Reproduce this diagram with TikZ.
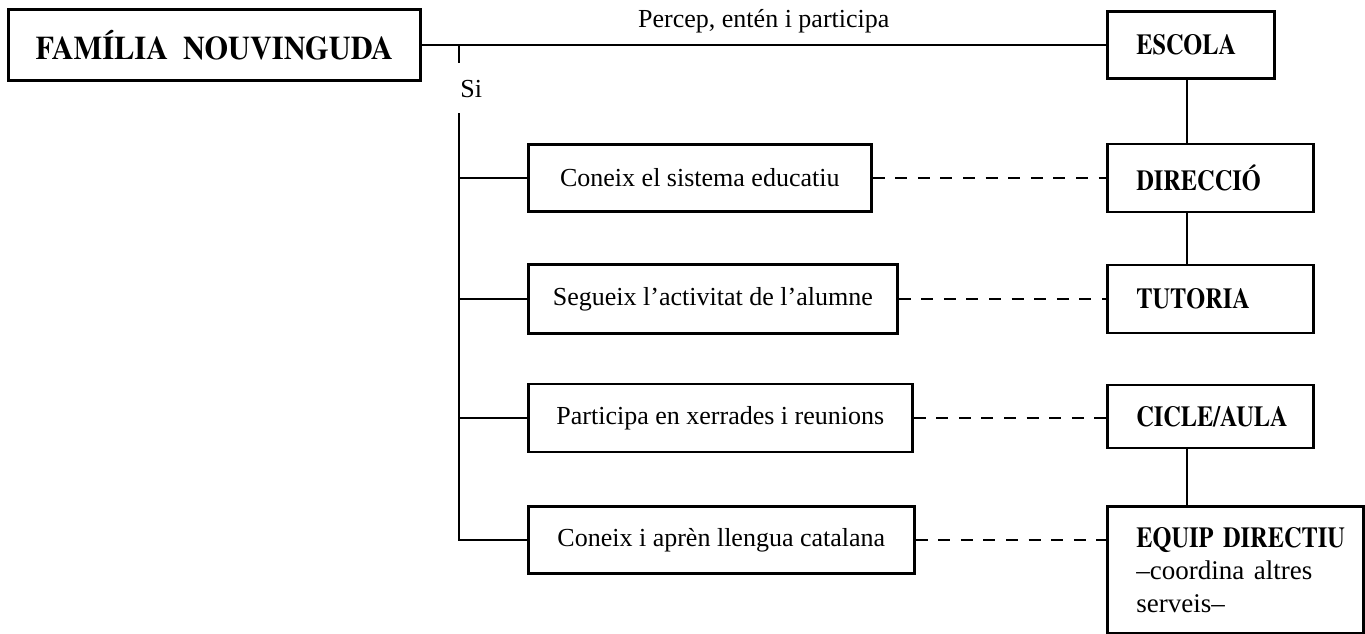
\documentclass[tikz,border=0pt]{standalone}
\usepackage{fontspec}
\setmainfont{Liberation Serif}
\IfFontExistsTF{texgyretermes-bold.otf}{%
  \newfontfamily\condfont[FakeStretch=0.84]{texgyretermes-bold.otf}%
  \newfontfamily\titlefont[FakeStretch=0.92]{texgyretermes-bold.otf}%
}{%
  \newfontfamily\condfont[FakeStretch=0.84,FakeBold=2]{Liberation Serif}%
  \newfontfamily\titlefont[FakeStretch=0.92,FakeBold=2]{Liberation Serif}%
}
\begin{document}
\begin{tikzpicture}[x=0.5pt,y=-0.5pt,
  conn/.style={line width=1.2pt},
  dashconn/.style={line width=0.9pt, dash pattern=on 6pt off 5.3pt},
  lbox/.style={draw, line width=1.3pt, anchor=west, inner sep=0pt,
    font=\fontsize{13}{16}\selectfont},
  rbox/.style={draw, line width=1.3pt, anchor=west, inner xsep=14.5pt, inner ysep=0pt,
    align=left, font=\fontsize{14.5}{16.25}\selectfont\condfont},
  plain/.style={font=\fontsize{13}{16}\selectfont, inner sep=0pt}
]
\useasboundingbox (0,0) rectangle (1365,633);

% title box
\node[draw, line width=1.3pt, anchor=west, minimum width=206pt, minimum height=35.5pt,
  inner sep=0pt, font=\titlefont\fontsize{16.5}{18}\selectfont] (fam) at (7,45)
  {FAMÍLIA\hspace{0.45em}NOUVINGUDA};

% right column
\node[rbox, minimum width=83.5pt, text width=54.5pt, minimum height=33.5pt] (escola) at (1106,45) {ESCOLA};
\node[rbox, minimum width=103pt, text width=74pt, minimum height=34pt] (dir) at (1106,178) {DIRECCIÓ};
\node[rbox, minimum width=103pt, text width=74pt, minimum height=34pt] (tut) at (1106,299) {TUTORIA};
\node[rbox, minimum width=103pt, text width=74pt, minimum height=31.5pt] (cic) at (1106,416.5) {CICLE/AULA};
\node[rbox, anchor=north west, minimum width=128pt, text width=99pt, minimum height=63.5pt] (equip) at (1106,505)
  {\mbox{EQUIP DIRECTIU}\\
   {\normalfont\fontsize{13.5}{16.25}\selectfont –coordina altres}\\
   {\normalfont\fontsize{13.5}{16.25}\selectfont serveis–}};

% left column
\node[lbox, minimum width=171.5pt, minimum height=33.5pt] (a1) at (527,178) {Coneix el sistema educatiu};
\node[lbox, minimum width=184.5pt, minimum height=34.5pt] (a2) at (527,299) {Segueix l’activitat de l’alumne};
\node[lbox, minimum width=192pt, minimum height=34pt] (a3) at (527,418) {Participa en xerrades i reunions};
\node[lbox, minimum width=193pt, minimum height=33.5pt] (a4) at (527,540) {Coneix i aprèn llengua catalana};

% top connector with label
\draw[conn] (fam.east) -- node[plain, above=5.5pt] (lbl) {Percep, entén i participa} (escola.west);

% "Si" branch
\coordinate (jt) at (459,45);
\coordinate (jb) at (459,113);
\node[plain, anchor=base west] (si) at (460,97) {Si};
\draw[conn] (jt) -- ++(0,18);
\draw[conn] (jb) |- (a4.west);
\draw[conn] (a1.west -| jb) -- (a1.west);
\draw[conn] (a2.west -| jb) -- (a2.west);
\draw[conn] (a3.west -| jb) -- (a3.west);

% dashed links
\draw[dashconn] (a1.east) -- (a1.east -| dir.west);
\draw[dashconn] (a2.east) -- (a2.east -| tut.west);
\draw[dashconn] (a3.east) -- (a3.east -| cic.west);
\draw[dashconn] (a4.east) -- (a4.east -| equip.west);

% hierarchy on the right
\coordinate (vx) at (1187,0);
\draw[conn] (escola.south -| vx) -- (dir.north -| vx);
\draw[conn] (dir.south -| vx) -- (tut.north -| vx);
\draw[conn] (cic.south -| vx) -- (equip.north -| vx);
\end{tikzpicture}
\end{document}
